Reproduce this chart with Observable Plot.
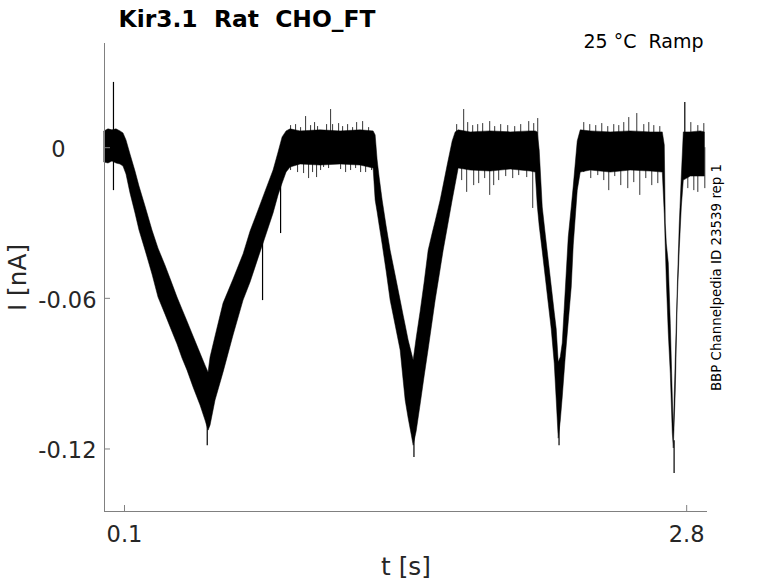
<!DOCTYPE html>
<html><head><meta charset="utf-8">
<script src="https://cdn.jsdelivr.net/npm/d3@7"></script>
<script src="https://cdn.jsdelivr.net/npm/@observablehq/plot@0.6"></script>
<style>
html,body{margin:0;padding:0;background:#fff;}
svg text{white-space:pre;}
</style></head><body><div id="chart"></div>
<script>
const title = "Kir3.1  Rat  CHO_FT";
const subtitle = "25 °C  Ramp";
const sideNote = "BBP Channelpedia ID 23539 rep 1";
const xLabel = "t [s]";
const yLabel = "I [nA]";
const xTicks = [0.1, 2.8];
const xTickLabels = ["0.1", "2.8"];
const yTicks = [-0.06, -0.12];
const yTickLabels = ["-0.06", "-0.12"];
const yZeroTick = [0];
const xDomain = [0.004, 2.9];
const yDomain = [-0.1449, 0.0415];

// envelope of the overlaid sweeps (upper / lower edge of the black band)
const traceT = [0.0039,0.0231,0.0423,0.0616,0.0808,0.0952,
0.1096,0.1288,0.1529,0.1721,0.2009,0.2345,0.2634,0.2970,0.3259,0.3547,0.3787,0.4027,0.4316,0.4652,0.4892,0.5037,
0.5133,0.5373,0.5757,0.6238,0.6718,0.7055,0.7439,0.7776,0.8160,0.8400,0.8593,0.8785,0.8977,
0.9458,1.0419,1.1380,1.2341,1.2965,
1.3062,1.3158,1.3254,1.3398,1.3590,1.3782,1.4023,1.4263,1.4407,1.4503,1.4647,1.4792,1.4888,
1.5032,1.5224,1.5416,1.5608,1.5801,1.5945,1.6185,1.6329,1.6521,1.6762,1.6906,1.7050,
1.7627,1.8588,1.9549,2.0510,2.0750,
2.0846,2.0942,2.1087,2.1231,2.1375,2.1519,2.1663,2.1759,2.1855,
2.1952,2.2048,2.2192,2.2336,2.2480,2.2576,2.2768,2.2913,
2.3393,2.4354,2.5315,2.6276,2.6853,
2.6949,2.6997,2.7045,2.7141,2.7237,2.7334,2.7382,2.7478,2.7574,2.7670,2.7766,2.7862,
2.8199,2.8679,2.8871];
const traceHi = [0.0065,0.0073,0.0069,0.0073,0.0065,0.0057,
0.0029,-0.0027,-0.0095,-0.0155,-0.0234,-0.0330,-0.0402,-0.0470,-0.0533,-0.0597,-0.0645,-0.0693,-0.0752,-0.0820,-0.0868,-0.0896,
-0.0836,-0.0752,-0.0621,-0.0525,-0.0425,-0.0334,-0.0250,-0.0175,-0.0091,-0.0019,0.0041,0.0065,0.0073,
0.0065,0.0069,0.0065,0.0069,0.0065,
0.0049,-0.0051,-0.0119,-0.0210,-0.0314,-0.0410,-0.0509,-0.0609,-0.0669,-0.0708,-0.0768,-0.0816,-0.0848,
-0.0760,-0.0653,-0.0537,-0.0410,-0.0342,-0.0294,-0.0210,-0.0151,-0.0071,0.0025,0.0061,0.0069,
0.0061,0.0065,0.0061,0.0065,0.0065,
0.0061,-0.0011,-0.0238,-0.0346,-0.0449,-0.0553,-0.0657,-0.0724,-0.0856,
-0.0836,-0.0780,-0.0569,-0.0358,-0.0238,-0.0155,0.0025,0.0069,
0.0065,0.0061,0.0065,0.0061,0.0061,
0.0009,-0.0302,-0.0382,-0.0461,-0.0701,-0.0995,-0.1127,-0.0836,-0.0553,-0.0302,-0.0115,0.0061,
0.0061,0.0065,0.0061];
const traceLo = [-0.0059,-0.0063,-0.0055,-0.0063,-0.0067,-0.0075,
-0.0107,-0.0182,-0.0262,-0.0330,-0.0409,-0.0505,-0.0597,-0.0665,-0.0725,-0.0784,-0.0840,-0.0888,-0.0955,-0.1027,-0.1087,-0.1127,
-0.1107,-0.1007,-0.0896,-0.0748,-0.0609,-0.0537,-0.0441,-0.0358,-0.0262,-0.0190,-0.0143,-0.0099,-0.0079,
-0.0067,-0.0071,-0.0067,-0.0071,-0.0083,
-0.0210,-0.0258,-0.0310,-0.0386,-0.0493,-0.0609,-0.0708,-0.0808,-0.0928,-0.1007,-0.1079,-0.1143,-0.1187,
-0.1131,-0.1023,-0.0911,-0.0804,-0.0692,-0.0609,-0.0485,-0.0410,-0.0322,-0.0210,-0.0147,-0.0083,
-0.0091,-0.0095,-0.0087,-0.0095,-0.0099,
-0.0230,-0.0314,-0.0414,-0.0517,-0.0621,-0.0724,-0.0860,-0.1007,-0.1159,
-0.1091,-0.0995,-0.0836,-0.0696,-0.0557,-0.0390,-0.0171,-0.0099,
-0.0091,-0.0099,-0.0091,-0.0095,-0.0099,
-0.0266,-0.0398,-0.0529,-0.0740,-0.0900,-0.1139,-0.1198,-0.0967,-0.0605,-0.0402,-0.0238,-0.0131,
-0.0115,-0.0115,-0.0115];

// large isolated excursions (t, from, to)
const peakT    = [0.0471, 0.4974, 1.4902, 2.1870, 2.7396, 0.7631, 0.8497, 2.7910];
const peakFrom = [0.0260, -0.1007, -0.1087, -0.1047, -0.1167, -0.0220, -0.0120, 0.0029];
const peakTo   = [-0.0171, -0.1187, -0.1234, -0.1187, -0.1298, -0.0609, -0.0342, 0.0180];

// noise spikes on the baseline plateaus
const noiseUpT = [0.8977,0.9217,0.9458,0.9698,0.9938,1.0130,1.0274,1.0707,1.0899,1.0995,1.1284,1.1476,1.1716,1.1956,1.2149,1.2437,1.2725,
1.6954,1.7290,1.7483,1.7723,1.7963,1.8203,1.8540,1.8780,1.9068,1.9405,1.9741,2.0029,2.0414,2.0654,2.0846,
2.3057,2.3345,2.3633,2.3922,2.4210,2.4498,2.4739,2.4979,2.5219,2.5604,2.5940,2.6180,2.6421,2.6709,
2.8199,2.8535,2.8823];
const noiseUpI = [0.0088,0.0092,0.0080,0.0124,0.0088,0.0100,0.0084,0.0092,0.0152,0.0092,0.0096,0.0084,0.0092,0.0080,0.0100,0.0104,0.0080,
0.0092,0.0152,0.0100,0.0088,0.0092,0.0096,0.0104,0.0084,0.0092,0.0088,0.0084,0.0092,0.0104,0.0096,0.0116,
0.0100,0.0092,0.0088,0.0096,0.0084,0.0092,0.0088,0.0100,0.0120,0.0136,0.0092,0.0100,0.0088,0.0084,
0.0100,0.0088,0.0096];
const noiseDownT = [0.8977,0.9313,0.9602,0.9842,1.0034,1.0226,1.0419,1.0563,1.0803,1.1380,1.1620,1.1860,1.2100,1.2341,1.2581,1.2869,
1.7194,1.7434,1.7771,1.8011,1.8299,1.8540,1.8732,1.8972,1.9309,1.9645,1.9933,2.0318,2.0606,
2.3057,2.3393,2.3730,2.4018,2.4258,2.4546,2.4835,2.5171,2.5459,2.5748,2.6036,2.6324,2.6613,
2.8054,2.8343,2.8535,2.8871];
const noiseDownI = [-0.0091,-0.0099,-0.0103,-0.0123,-0.0099,-0.0119,-0.0091,-0.0079,-0.0083,-0.0087,-0.0099,-0.0091,-0.0083,-0.0099,-0.0099,-0.0091,
-0.0131,-0.0178,-0.0151,-0.0143,-0.0123,-0.0190,-0.0151,-0.0131,-0.0115,-0.0123,-0.0111,-0.0119,-0.0242,
-0.0099,-0.0123,-0.0111,-0.0131,-0.0171,-0.0115,-0.0151,-0.0163,-0.0139,-0.0190,-0.0123,-0.0151,-0.0143,
-0.0163,-0.0171,-0.0178,-0.0163];

const trace = traceT.map((t, i) => ({t, hi: traceHi[i], lo: traceLo[i]}));
const peaks = peakT.map((t, i) => ({t, a: peakFrom[i], b: peakTo[i]}));
const noise = noiseUpT.map((t, i) => ({t, v: noiseUpI[i]}))
  .concat(noiseDownT.map((t, i) => ({t, v: noiseDownI[i]})));

const W = 778, H = 583, mL = 104, mR = 71, mT = 43, mB = 72;
const tickPx = 6;
const yTickLen = tickPx * (yDomain[1] - yDomain[0]) / (H - mT - mB);
const xTickLen = tickPx * (xDomain[1] - xDomain[0]) / (W - mL - mR);

const tickColor = "#262626";
const axisColor = "#808080";
const font = "DejaVu Sans";

const chart = Plot.plot({
  width: W, height: H,
  marginLeft: mL, marginRight: mR, marginTop: mT, marginBottom: mB,
  style: {fontFamily: font, background: "#fff", overflow: "visible"},
  x: {domain: xDomain, label: null},
  y: {domain: yDomain, label: null},
  marks: [
    Plot.areaY(trace, {x: "t", y1: "lo", y2: "hi", fill: "black", stroke: "black", strokeWidth: 0.5}),
    Plot.ruleX(noise, {x: "t", y1: 0, y2: "v", stroke: "black", strokeWidth: 0.8}),
    Plot.ruleX(peaks, {x: "t", y1: "a", y2: "b", stroke: "black", strokeWidth: 1.2}),
    Plot.ruleX([xDomain[0]], {stroke: axisColor, strokeWidth: 1}),
    Plot.ruleY([yDomain[0]], {stroke: axisColor, strokeWidth: 1}),
    Plot.ruleX(xTicks, {x: d => d, y1: yDomain[0], y2: yDomain[0] + yTickLen, stroke: axisColor, strokeWidth: 1}),
    Plot.ruleY(yTicks.concat(yZeroTick), {y: d => d, x1: xDomain[0], x2: xDomain[0] + xTickLen, stroke: axisColor, strokeWidth: 1}),
    Plot.axisX(xTicks, {tickSize: 0, tickPadding: 14.7, fill: tickColor, fontSize: 22.5,
      tickFormat: d => xTickLabels[xTicks.indexOf(d)]}),
    Plot.axisY(yTicks, {tickSize: 0, tickPadding: 8, dy: 2, fill: tickColor, fontSize: 22.5,
      tickFormat: d => yTickLabels[yTicks.indexOf(d)]}),
    Plot.axisY(yZeroTick, {tickSize: 0, tickPadding: 39, dy: 2, fill: tickColor, fontSize: 22.5,
      tickFormat: d => "0"}),
    Plot.text([title], {text: d => d, frameAnchor: "top-left", textAnchor: "start", lineAnchor: "top",
      dx: 14, dy: -32.8, fontSize: 23.4, fontWeight: "bold", fill: "black"}),
    Plot.text([subtitle], {text: d => d, frameAnchor: "top-right", textAnchor: "end", lineAnchor: "top",
      dx: -4, dy: -9.2, fontSize: 19, fill: "black"}),
    Plot.text([sideNote], {text: d => d, frameAnchor: "right", textAnchor: "middle", lineAnchor: "top",
      rotate: -90, dx: 4, fontSize: 13.4, fill: "black"}),
    Plot.text([yLabel], {text: d => d, frameAnchor: "left", textAnchor: "middle", lineAnchor: "top",
      rotate: -90, dx: -96.5, fontSize: 24.75, fill: tickColor}),
    Plot.text([xLabel], {text: d => d, frameAnchor: "bottom", textAnchor: "middle", lineAnchor: "top",
      dy: 46.4, fontSize: 24.75, fill: tickColor})
  ]
});
document.getElementById("chart").appendChild(chart);
</script></body></html>
